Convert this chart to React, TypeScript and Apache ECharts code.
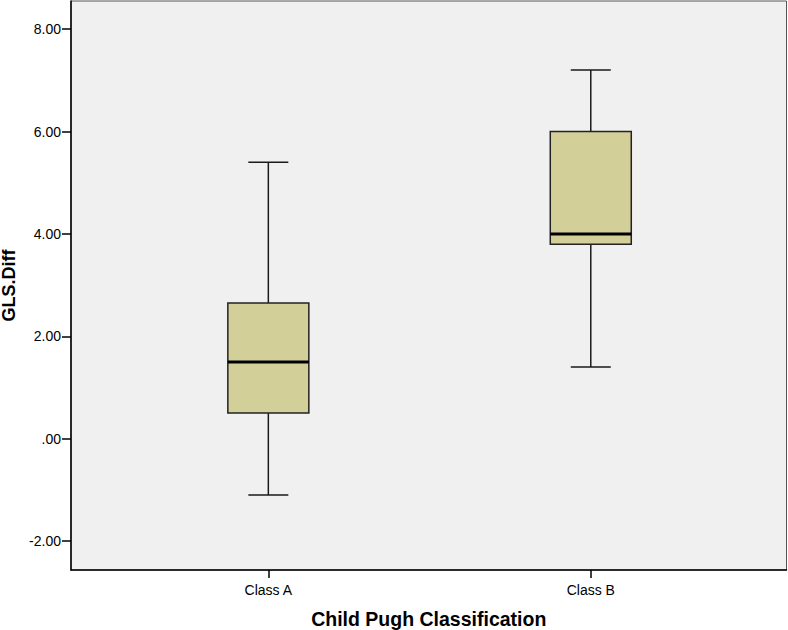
import React, { useEffect, useRef } from "react";
import * as echarts from "echarts";

// Child Pugh classes and the five-number summary of GLS.Diff for each
const categories = ["Class A", "Class B"];
const whiskerLow = [-1.1, 1.4];
const quartile1 = [0.5, 3.8];
const medians = [1.5, 4.0];
const quartile3 = [2.65, 6.0];
const whiskerHigh = [5.4, 7.2];
const yTicks = [-2, 0, 2, 4, 6, 8];

const FONT = "'Liberation Sans', Arial, sans-serif";
const BOX_FILL = "#d3cf98";
const BOX_PX = 81;
const CAP_PX = 40;

const formatY = (v: number) => (v === 0 ? ".00" : v.toFixed(2));

export default function App() {
  const ref = useRef<HTMLDivElement>(null);

  useEffect(() => {
    if (!ref.current) return;
    const chart = echarts.init(ref.current, undefined, { renderer: "svg" });

    const data = categories.map((_, i) => [
      i,
      whiskerLow[i],
      quartile1[i],
      medians[i],
      quartile3[i],
      whiskerHigh[i],
    ]);

    const renderItem = (params: any, api: any) => {
      const idx = api.value(0);
      const pLow = api.coord([idx, api.value(1)]);
      const pQ1 = api.coord([idx, api.value(2)]);
      const pMed = api.coord([idx, api.value(3)]);
      const pQ3 = api.coord([idx, api.value(4)]);
      const pHigh = api.coord([idx, api.value(5)]);
      const cx = pMed[0];
      const lineStyle = { stroke: "#1a1a1a", lineWidth: 1.5 };
      return {
        type: "group",
        children: [
          { type: "line", shape: { x1: cx, y1: pHigh[1], x2: cx, y2: pQ3[1] }, style: lineStyle },
          { type: "line", shape: { x1: cx, y1: pQ1[1], x2: cx, y2: pLow[1] }, style: lineStyle },
          { type: "line", shape: { x1: cx - CAP_PX / 2, y1: pHigh[1], x2: cx + CAP_PX / 2, y2: pHigh[1] }, style: lineStyle },
          { type: "line", shape: { x1: cx - CAP_PX / 2, y1: pLow[1], x2: cx + CAP_PX / 2, y2: pLow[1] }, style: lineStyle },
          {
            type: "rect",
            shape: { x: cx - BOX_PX / 2, y: pQ3[1], width: BOX_PX, height: pQ1[1] - pQ3[1] },
            style: { fill: BOX_FILL, stroke: "#222", lineWidth: 1.5 },
          },
          {
            type: "line",
            shape: { x1: cx - BOX_PX / 2, y1: pMed[1], x2: cx + BOX_PX / 2, y2: pMed[1] },
            style: { stroke: "#000", lineWidth: 3 },
          },
        ],
      };
    };

    chart.setOption({
      animation: false,
      backgroundColor: "#ffffff",
      grid: {
        left: 71,
        right: 1.5,
        top: 1,
        bottom: 60,
        outerBoundsMode: "none",
        containLabel: false,
        show: true,
        backgroundColor: "#f0f0f0",
        borderColor: "#555",
        borderWidth: 1,
      },
      xAxis: {
        type: "value",
        min: -0.612,
        max: 1.607,
        name: "Child Pugh Classification",
        nameLocation: "middle",
        nameGap: 39,
        nameTextStyle: { fontFamily: FONT, fontSize: 19.5, lineHeight: 20, fontWeight: "bold", color: "#000" },
        axisLine: { show: true, onZero: false, lineStyle: { color: "#000", width: 1.5 } },
        axisTick: { show: true, customValues: [0, 1], length: 8, lineStyle: { color: "#000", width: 1.5 } },
        axisLabel: {
          customValues: [0, 1],
          formatter: (v: number) => categories[Math.round(v)] ?? "",
          fontFamily: FONT,
          fontSize: 14,
          color: "#000",
          margin: 13,
        },
        splitLine: { show: false },
      },
      yAxis: {
        type: "value",
        min: -2.564,
        max: 8.549,
        name: "GLS.Diff",
        nameLocation: "middle",
        nameGap: 51,
        nameTextStyle: { fontFamily: FONT, fontSize: 18, lineHeight: 16, fontWeight: "bold", color: "#000" },
        axisLine: { show: true, onZero: false, lineStyle: { color: "#000", width: 1.5 } },
        axisTick: { show: true, customValues: yTicks, length: 9, lineStyle: { color: "#000", width: 1.5 } },
        axisLabel: {
          customValues: yTicks,
          formatter: formatY,
          fontFamily: FONT,
          fontSize: 14,
          color: "#000",
          margin: 10,
        },
        splitLine: { show: false },
      },
      series: [
        {
          type: "custom",
          renderItem,
          data,
          encode: { x: 0, y: [1, 2, 3, 4, 5] },
          silent: true,
        },
      ],
    });

    return () => chart.dispose();
  }, []);

  return <div ref={ref} style={{ width: 788, height: 630, position: "absolute", left: 0, top: 0 }} />;
}
